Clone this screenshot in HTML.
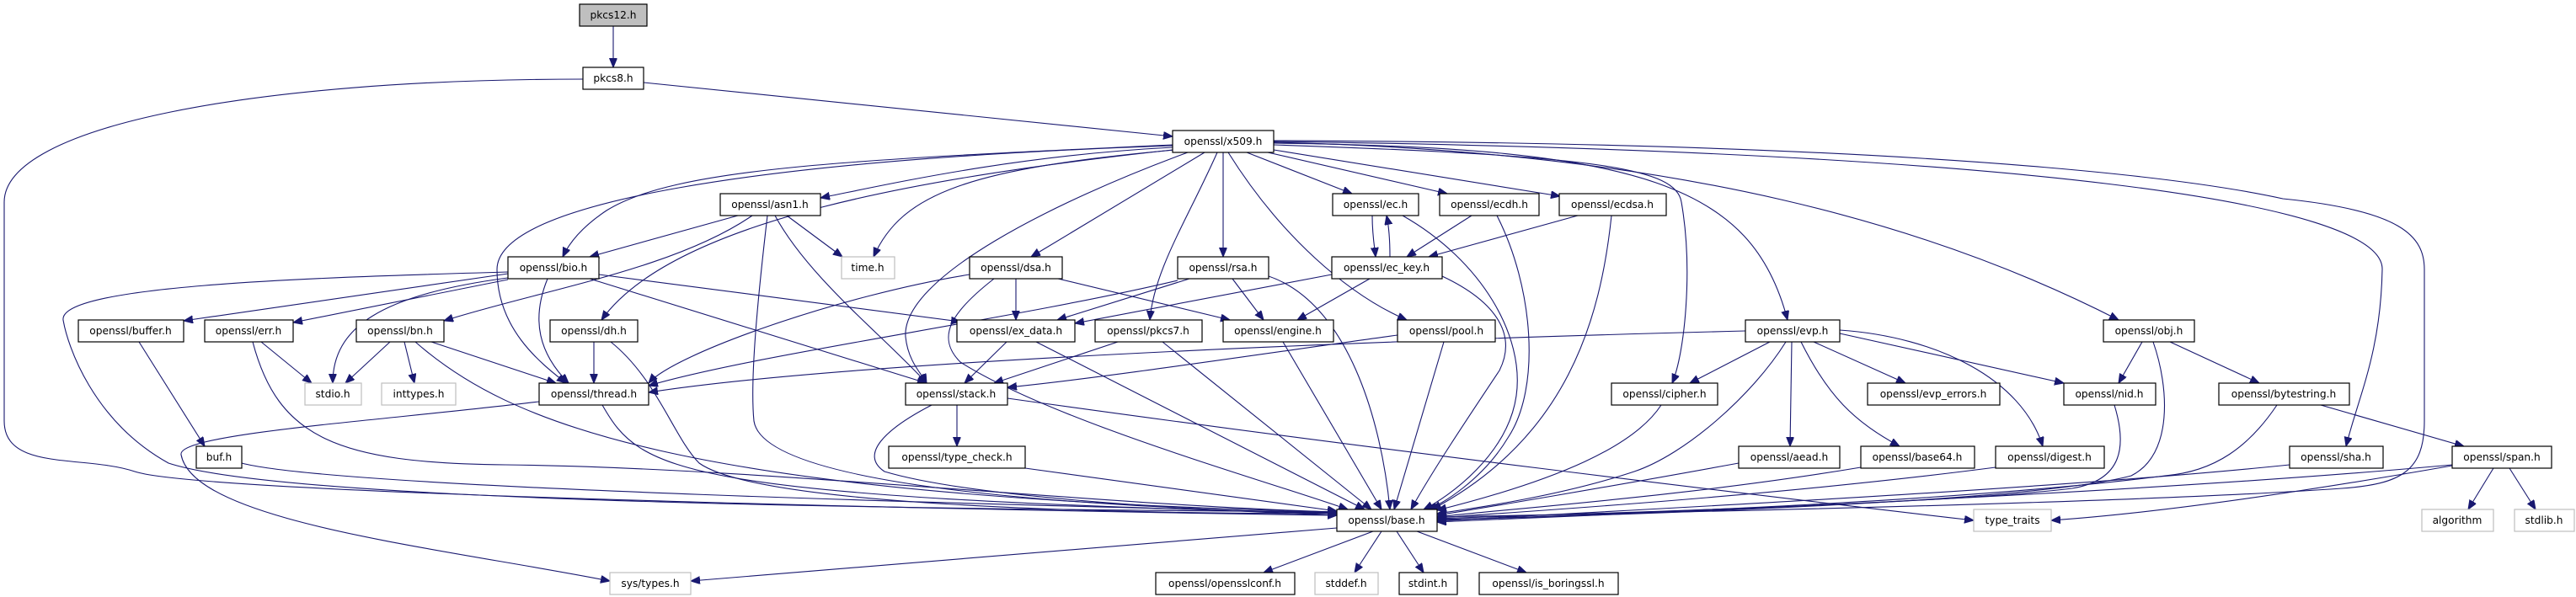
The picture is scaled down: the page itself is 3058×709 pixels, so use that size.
<!DOCTYPE html>
<html><head><meta charset="utf-8"><style>
html,body{margin:0;padding:0;background:#fff;}
svg{display:block;}
text{font-family:"DejaVu Sans","Liberation Sans",sans-serif;font-size:12.2px;fill:#000;text-anchor:middle;}
.n{fill:#fff;stroke:#000;stroke-width:1.2;}
.g{fill:#fff;stroke:#bfbfbf;stroke-width:1.2;}
.e path{fill:none;stroke:#191970;stroke-width:1.1;marker-end:url(#a);}
</style></head><body>
<svg width="3058" height="709" viewBox="0 0 3058 709" xmlns="http://www.w3.org/2000/svg">
<defs><marker id="a" markerUnits="userSpaceOnUse" markerWidth="12" markerHeight="10" refX="11" refY="4.5" orient="auto"><path d="M0,0 L11,4.5 L0,9 z" fill="#191970" stroke="#191970"/></marker></defs>
<g class="e">
<path d="M728,31 L728,80"/>
<path d="M764,98 L1392,162"/>
<path d="M692,94 C300,94 5,150 5,240 L5,500 C5,560 100,540 160,560 C250,590 1400,610 1587,612"/>
<path d="M1392,175 C1200,185 1050,220 974,235"/>
<path d="M1392,172 C1000,190 800,200 720,250 C690,270 675,290 668,305"/>
<path d="M1395,178 C1150,200 1070,230 1037,305"/>
<path d="M1430,181 L1224,305"/>
<path d="M1392,178 C1100,210 800,260 714,380"/>
<path d="M1392,173 C900,190 590,240 590,320 C590,390 640,430 672,455"/>
<path d="M1410,181 C1250,240 1070,330 1075,400 C1078,430 1095,445 1100,455"/>
<path d="M1445,181 C1410,260 1370,320 1365,380"/>
<path d="M1452,181 L1452,305"/>
<path d="M1458,181 C1520,280 1600,350 1670,380"/>
<path d="M1480,181 L1605,230"/>
<path d="M1505,181 L1718,230"/>
<path d="M1512,178 L1852,233"/>
<path d="M1512,172 C1900,185 1990,200 1996,240 C2010,320 2000,420 1985,455"/>
<path d="M1512,170 C1950,175 2080,220 2122,380"/>
<path d="M1512,169 C2000,180 2300,270 2515,380"/>
<path d="M1512,168 C2400,180 2830,240 2828,320 C2826,420 2800,470 2785,530"/>
<path d="M1512,167 C2400,170 2660,225 2710,236 C2850,250 2878,280 2878,320 L2878,500 C2878,560 2850,575 2780,580 C2500,600 1800,612 1706,614"/>
<path d="M876,256 L700,305"/>
<path d="M893,256 C800,320 640,345 527,381"/>
<path d="M934,256 L1000,305"/>
<path d="M920,256 C960,330 1050,400 1100,455"/>
<path d="M911,256 C900,350 890,450 895,500 C905,570 1200,600 1587,610"/>
<path d="M603,325 L218,381"/>
<path d="M603,332 L348,383"/>
<path d="M603,330 C450,350 395,390 395,455"/>
<path d="M650,331 C630,380 640,420 675,455"/>
<path d="M700,331 L1100,455"/>
<path d="M711,326 L1140,382"/>
<path d="M603,323 C350,330 70,340 75,380 C80,410 110,500 200,550 C350,600 1200,605 1587,608"/>
<path d="M165,406 L243,530"/>
<path d="M287,550 C400,580 1200,600 1587,609"/>
<path d="M310,406 L370,455"/>
<path d="M300,406 C330,520 400,550 600,552 C900,555 1300,600 1587,608"/>
<path d="M463,406 L410,455"/>
<path d="M480,406 L492,455"/>
<path d="M512,406 L660,455"/>
<path d="M493,406 C600,500 800,590 1587,608"/>
<path d="M705,406 L705,455"/>
<path d="M725,406 C780,450 800,520 830,550 C900,600 1300,610 1587,610"/>
<path d="M715,481 C760,560 800,590 1587,610"/>
<path d="M640,477 C450,500 210,515 215,540 C230,620 520,650 724,690"/>
<path d="M1206,331 L1206,380"/>
<path d="M1256,331 L1460,380"/>
<path d="M1151,326 C1000,350 800,420 770,455"/>
<path d="M1180,331 C1130,370 1110,400 1140,430 C1250,500 1500,570 1600,605"/>
<path d="M1412,331 L1255,380"/>
<path d="M1463,331 L1500,380"/>
<path d="M1506,328 C1600,360 1640,500 1650,605"/>
<path d="M1398,333 C1200,380 900,420 770,458"/>
<path d="M1629,256 C1629,280 1632,295 1633,305"/>
<path d="M1650,305 C1650,290 1649,270 1646,256"/>
<path d="M1665,256 C1760,310 1810,400 1800,470 C1790,540 1720,590 1690,605"/>
<path d="M1747,256 L1670,305"/>
<path d="M1777,256 C1820,340 1830,460 1790,520 C1760,570 1710,600 1695,605"/>
<path d="M1873,256 L1696,305"/>
<path d="M1913,256 C1900,380 1860,520 1700,605"/>
<path d="M1581,326 L1276,384"/>
<path d="M1626,331 L1540,380"/>
<path d="M1712,328 C1780,360 1800,400 1780,440 C1740,500 1700,560 1675,605"/>
<path d="M1195,406 L1145,455"/>
<path d="M1230,406 L1620,605"/>
<path d="M1327,406 L1180,455"/>
<path d="M1380,406 L1628,605"/>
<path d="M1523,406 L1640,605"/>
<path d="M1659,398 C1500,420 1300,450 1196,460"/>
<path d="M1714,406 L1655,605"/>
<path d="M1136,481 L1136,530"/>
<path d="M1106,481 C1050,510 1020,540 1050,560 C1150,590 1400,605 1587,612"/>
<path d="M1196,473 C1600,530 2100,590 2343,618"/>
<path d="M1217,556 L1587,607"/>
<path d="M2072,393 C1600,405 1000,430 770,466"/>
<path d="M2101,406 L2006,455"/>
<path d="M2127,406 L2125,530"/>
<path d="M2138,406 C2170,470 2200,500 2255,530"/>
<path d="M2153,406 L2262,455"/>
<path d="M2184,396 L2450,455"/>
<path d="M2184,392 C2300,400 2400,450 2425,530"/>
<path d="M2120,406 C2080,470 2000,540 1940,560 C1850,590 1740,605 1706,610"/>
<path d="M1972,481 C1940,530 1850,570 1706,606"/>
<path d="M2064,550 C1900,580 1750,605 1706,612"/>
<path d="M2209,555 C2000,590 1780,605 1706,614"/>
<path d="M2369,555 C2100,590 1800,608 1706,615"/>
<path d="M2510,481 C2525,530 2520,570 2460,580 C2300,600 1800,612 1706,616"/>
<path d="M2543,406 L2515,455"/>
<path d="M2576,406 L2682,455"/>
<path d="M2556,406 C2575,460 2580,540 2530,565 C2400,600 1800,615 1706,617"/>
<path d="M2755,481 L2925,530"/>
<path d="M2703,481 C2670,530 2630,560 2570,565 C2300,600 1800,614 1706,618"/>
<path d="M2718,552 C2400,585 1800,612 1706,619"/>
<path d="M2960,556 L2930,605"/>
<path d="M2979,556 L3010,605"/>
<path d="M2911,552 C2500,590 1800,615 1706,620"/>
<path d="M2911,553 C2700,590 2550,610 2435,618"/>
<path d="M1630,631 L1500,680"/>
<path d="M1640,631 L1608,680"/>
<path d="M1658,631 L1690,680"/>
<path d="M1682,631 L1812,680"/>
<path d="M1587,627 L820,690"/>
</g>
<g>
<rect x="688" y="5" width="80" height="26" style="fill:#bfbfbf;stroke:#000;stroke-width:1.2"/><text x="728" y="22">pkcs12.h</text>
<rect class="n" x="692" y="80" width="72" height="26"/><text x="728" y="97">pkcs8.h</text>
<rect class="n" x="1392" y="155" width="120" height="26"/><text x="1452" y="172">openssl/x509.h</text>
<rect class="n" x="855" y="230" width="119" height="26"/><text x="914" y="247">openssl/asn1.h</text>
<rect class="n" x="1582" y="230" width="102" height="26"/><text x="1633" y="247">openssl/ec.h</text>
<rect class="n" x="1709" y="230" width="118" height="26"/><text x="1768" y="247">openssl/ecdh.h</text>
<rect class="n" x="1851" y="230" width="127" height="26"/><text x="1914" y="247">openssl/ecdsa.h</text>
<rect class="n" x="603" y="305" width="108" height="26"/><text x="657" y="322">openssl/bio.h</text>
<rect class="g" x="999" y="305" width="63" height="26"/><text x="1030" y="322">time.h</text>
<rect class="n" x="1151" y="305" width="110" height="26"/><text x="1206" y="322">openssl/dsa.h</text>
<rect class="n" x="1398" y="305" width="108" height="26"/><text x="1452" y="322">openssl/rsa.h</text>
<rect class="n" x="1581" y="305" width="131" height="26"/><text x="1646" y="322">openssl/ec_key.h</text>
<rect class="n" x="93" y="380" width="125" height="26"/><text x="155" y="397">openssl/buffer.h</text>
<rect class="n" x="243" y="380" width="105" height="26"/><text x="295" y="397">openssl/err.h</text>
<rect class="n" x="423" y="380" width="104" height="26"/><text x="475" y="397">openssl/bn.h</text>
<rect class="n" x="653" y="380" width="104" height="26"/><text x="705" y="397">openssl/dh.h</text>
<rect class="n" x="1136" y="380" width="140" height="26"/><text x="1206" y="397">openssl/ex_data.h</text>
<rect class="n" x="1300" y="380" width="127" height="26"/><text x="1363" y="397">openssl/pkcs7.h</text>
<rect class="n" x="1452" y="380" width="131" height="26"/><text x="1517" y="397">openssl/engine.h</text>
<rect class="n" x="1659" y="380" width="116" height="26"/><text x="1717" y="397">openssl/pool.h</text>
<rect class="n" x="2072" y="380" width="112" height="26"/><text x="2128" y="397">openssl/evp.h</text>
<rect class="n" x="2497" y="380" width="108" height="26"/><text x="2551" y="397">openssl/obj.h</text>
<rect class="g" x="362" y="455" width="67" height="26"/><text x="395" y="472">stdio.h</text>
<rect class="g" x="453" y="455" width="88" height="26"/><text x="497" y="472">inttypes.h</text>
<rect class="n" x="640" y="455" width="130" height="26"/><text x="705" y="472">openssl/thread.h</text>
<rect class="n" x="1075" y="455" width="121" height="26"/><text x="1135" y="472">openssl/stack.h</text>
<rect class="n" x="1913" y="455" width="126" height="26"/><text x="1976" y="472">openssl/cipher.h</text>
<rect class="n" x="2217" y="455" width="157" height="26"/><text x="2295" y="472">openssl/evp_errors.h</text>
<rect class="n" x="2450" y="455" width="109" height="26"/><text x="2504" y="472">openssl/nid.h</text>
<rect class="n" x="2634" y="455" width="155" height="26"/><text x="2711" y="472">openssl/bytestring.h</text>
<rect class="n" x="233" y="530" width="54" height="26"/><text x="260" y="547">buf.h</text>
<rect class="n" x="1055" y="530" width="162" height="26"/><text x="1136" y="547">openssl/type_check.h</text>
<rect class="n" x="2064" y="530" width="120" height="26"/><text x="2124" y="547">openssl/aead.h</text>
<rect class="n" x="2209" y="530" width="135" height="26"/><text x="2276" y="547">openssl/base64.h</text>
<rect class="n" x="2369" y="530" width="129" height="26"/><text x="2433" y="547">openssl/digest.h</text>
<rect class="n" x="2718" y="530" width="111" height="26"/><text x="2773" y="547">openssl/sha.h</text>
<rect class="n" x="2911" y="530" width="118" height="26"/><text x="2970" y="547">openssl/span.h</text>
<rect class="n" x="1587" y="605" width="119" height="26"/><text x="1646" y="622">openssl/base.h</text>
<rect class="g" x="2343" y="605" width="92" height="26"/><text x="2389" y="622">type_traits</text>
<rect class="g" x="2875" y="605" width="85" height="26"/><text x="2917" y="622">algorithm</text>
<rect class="g" x="2985" y="605" width="71" height="26"/><text x="3020" y="622">stdlib.h</text>
<rect class="g" x="724" y="680" width="96" height="26"/><text x="772" y="697">sys/types.h</text>
<rect class="n" x="1372" y="680" width="165" height="26"/><text x="1454" y="697">openssl/opensslconf.h</text>
<rect class="g" x="1561" y="680" width="75" height="26"/><text x="1598" y="697">stddef.h</text>
<rect class="n" x="1661" y="680" width="69" height="26"/><text x="1695" y="697">stdint.h</text>
<rect class="n" x="1756" y="680" width="165" height="26"/><text x="1838" y="697">openssl/is_boringssl.h</text>
</g>
</svg>
</body></html>
